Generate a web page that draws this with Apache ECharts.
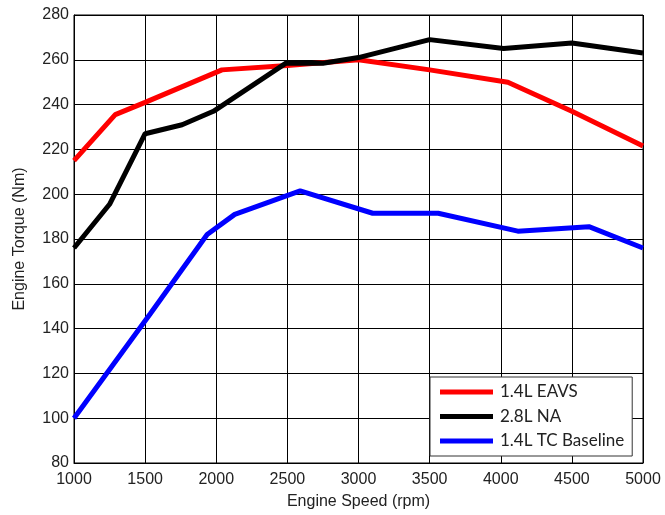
<!DOCTYPE html>
<html><head><meta charset="utf-8">
<script src="https://cdn.jsdelivr.net/npm/echarts@6/dist/echarts.min.js"></script>
<style>html,body{margin:0;padding:0;background:#fff}#c{width:665px;height:515px}</style>
</head><body><div id="c"></div>
<script>
const seriesNames = ['1.4L EAVS', '2.8L NA', '1.4L TC Baseline'];
const eavs = [[1000,215],[1290,235.5],[1500,241],[2040,255.5],[2500,257.5],[3000,260],[3500,255.5],[4050,250],[4500,237],[5000,221.5]];
const na28 = [[1000,176],[1250,195.5],[1500,227],[1760,231],[1980,237],[2490,258.5],[2750,258.5],[3000,261],[3500,269],[4020,265],[4500,267.5],[5000,263]];
const tcBase = [[1000,100],[1535,146.5],[1936,182],[2130,191],[2590,201.5],[3100,191.5],[3560,191.5],[4120,183.5],[4620,185.5],[5000,176]];
const colors = ['#ff0000', '#000000', '#0000ff'];
const chart = echarts.init(document.getElementById('c'));
const font = 'Liberation Sans, Arial, sans-serif';
chart.setOption({
  animation: false,
  grid: {left: 74, right: 22, top: 15, bottom: 52, show: true, borderColor: '#000', borderWidth: 1},
  xAxis: {
    type: 'value', min: 1000, max: 5000, interval: 500,
    name: 'Engine Speed (rpm)', nameLocation: 'middle', nameGap: 31,
    nameTextStyle: {fontFamily: font, fontSize: 16, color: '#222'},
    axisLine: {lineStyle: {color: '#000'}},
    axisTick: {inside: true, length: 4, lineStyle: {color: '#000'}},
    axisLabel: {fontFamily: font, fontSize: 16, color: '#222', margin: 9, formatter: v => String(v)},
    splitLine: {lineStyle: {color: '#000', width: 1}}
  },
  yAxis: {
    type: 'value', min: 80, max: 280, interval: 20,
    name: 'Engine Torque (Nm)', nameLocation: 'middle', nameGap: 46,
    nameTextStyle: {fontFamily: font, fontSize: 16, color: '#222'},
    axisLine: {show: true, lineStyle: {color: '#000'}},
    axisTick: {show: true, inside: true, length: 4, lineStyle: {color: '#000'}},
    axisLabel: {fontFamily: font, fontSize: 16, color: '#222', margin: 5},
    splitLine: {lineStyle: {color: '#000', width: 1}}
  },
  legend: {
    left: 430, top: 377, orient: 'vertical',
    icon: 'rect', itemWidth: 53, itemHeight: 5, itemGap: 4.5,
    backgroundColor: '#fff', borderColor: '#333', borderWidth: 1,
    padding: [5, 8, 5, 10],
    textStyle: {fontFamily: 'Lato, Liberation Sans, sans-serif', fontSize: 17, color: '#222', lineHeight: 20, padding: [0,0,0,2]},
    data: seriesNames
  },
  series: [
    {name: seriesNames[0], type: 'line', data: eavs, showSymbol: false, lineStyle: {width: 5, color: colors[0]}, itemStyle: {color: colors[0]}},
    {name: seriesNames[1], type: 'line', data: na28, showSymbol: false, lineStyle: {width: 5, color: colors[1]}, itemStyle: {color: colors[1]}},
    {name: seriesNames[2], type: 'line', data: tcBase, showSymbol: false, lineStyle: {width: 5, color: colors[2]}, itemStyle: {color: colors[2]}}
  ]
});
</script></body></html>
